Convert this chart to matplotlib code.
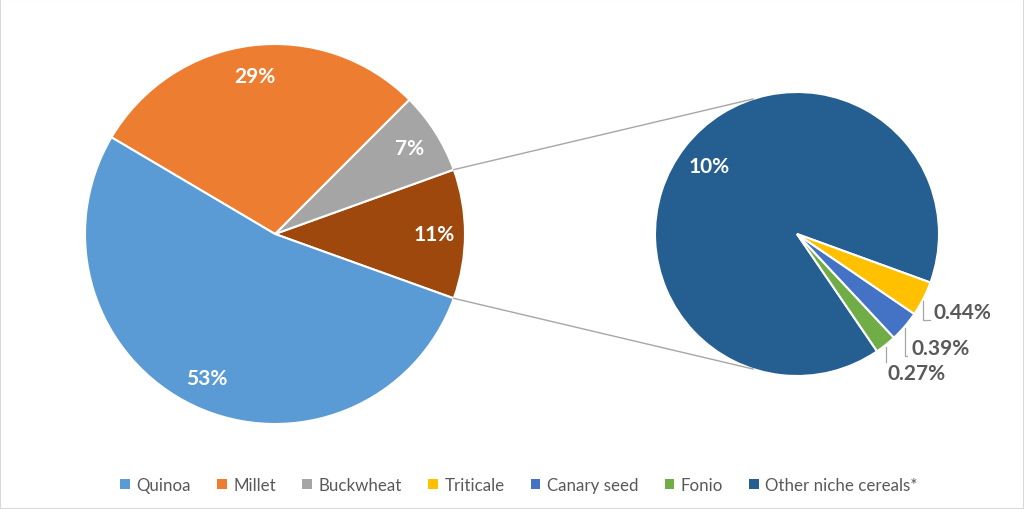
import numpy as np
import matplotlib.pyplot as plt
from matplotlib.patches import Patch, Rectangle

plt.rcParams['font.family'] = ['Lato', 'DejaVu Sans']

# main pie (counterclockwise from the right-hand "other" slice)
main_labels = ['Other', 'Buckwheat', 'Millet', 'Quinoa']
main_values = [11, 7, 29, 53]
main_colors = ['#9e480e', '#a5a5a5', '#ed7d31', '#5b9bd5']

# breakdown of the "other" slice
sub_labels = ['Other niche cereals*', 'Fonio', 'Canary seed', 'Triticale']
sub_values = [10, 0.27, 0.39, 0.44]
sub_text = ['10%', '0.27%', '0.39%', '0.44%']
sub_colors = ['#255e91', '#70ad47', '#4472c4', '#ffc000']

legend_labels = ['Quinoa', 'Millet', 'Buckwheat', 'Triticale', 'Canary seed', 'Fonio', 'Other niche cereals*']
legend_colors = ['#5b9bd5', '#ed7d31', '#a5a5a5', '#ffc000', '#4472c4', '#70ad47', '#255e91']

W, H = 1024, 510
fig = plt.figure(figsize=(W / 100, H / 100), dpi=100)
ax = fig.add_axes([0, 0, 1, 1])

c1, r1 = (275, 275), 190
c2, r2 = (797, 275), 142

start1 = -main_values[0] / sum(main_values) * 360 / 2
w1, _, t1 = ax.pie(main_values, colors=main_colors, startangle=start1, center=c1, radius=r1,
                   autopct=lambda p: '%d%%' % round(p), pctdistance=0.84,
                   wedgeprops=dict(edgecolor='white', linewidth=1.5),
                   textprops=dict(color='white', fontsize=15, fontweight='bold'))

w2, _ = ax.pie(sub_values, colors=sub_colors, startangle=-20, center=c2, radius=r2,
               wedgeprops=dict(edgecolor='white', linewidth=1.5))

for i, w in enumerate(w2):
    mid = np.deg2rad((w.theta1 + w.theta2) / 2)
    if i == 0:
        ax.text(c2[0] + 0.78 * r2 * np.cos(mid), c2[1] + 0.78 * r2 * np.sin(mid), sub_text[i],
                color='white', fontsize=15, fontweight='bold', ha='center', va='center')
        continue
    ex, ey = c2[0] + r2 * np.cos(mid), c2[1] + r2 * np.sin(mid)
    la = mid + np.deg2rad(2)
    tx, ty = c2[0] + 1.29 * r2 * np.cos(la), c2[1] + 1.29 * r2 * np.sin(la)
    ax.text(tx, ty, sub_text[i], color='#595959', fontsize=15, fontweight='bold',
            ha='center', va='center')
    left = tx - 31
    if left > ex + 3:
        ax.plot([ex, ex, left - 2], [ey - 2, ty - 8, ty - 8], color='#a6a6a6', lw=0.9)
    else:
        ax.plot([ex, ex], [ey - 2, ty + 11], color='#a6a6a6', lw=0.9)

# connector lines between the pies
a_top, a_bot = np.deg2rad(w1[0].theta2), np.deg2rad(w1[0].theta1)
p_top = (c1[0] + r1 * np.cos(a_top), c1[1] + r1 * np.sin(a_top))
p_bot = (c1[0] + r1 * np.cos(a_bot), c1[1] + r1 * np.sin(a_bot))
q_top = (c2[0] + r2 * np.cos(np.deg2rad(108)), c2[1] + r2 * np.sin(np.deg2rad(108)))
q_bot = (c2[0] + r2 * np.cos(np.deg2rad(-108)), c2[1] + r2 * np.sin(np.deg2rad(-108)))
ax.plot([p_top[0], q_top[0]], [p_top[1], q_top[1]], color='#a6a6a6', lw=1)
ax.plot([p_bot[0], q_bot[0]], [p_bot[1], q_bot[1]], color='#a6a6a6', lw=1)

ax.set_xlim(0, W)
ax.set_ylim(0, H)
ax.set_aspect('equal')
ax.axis('off')

handles = [Patch(facecolor=c, edgecolor='none') for c in legend_colors]
fig.legend(handles, legend_labels, loc='center', bbox_to_anchor=(0.507, 0.047), ncol=7,
           frameon=False, fontsize=12.2, handlelength=0.55, handleheight=0.55,
           handletextpad=0.4, columnspacing=1.55, labelcolor='#595959')

fig.patches.append(Rectangle((0, 0), 1, 1, transform=fig.transFigure, fill=False,
                             edgecolor='#d9d9d9', lw=1.5))

fig.savefig('out.png', dpi=100)
